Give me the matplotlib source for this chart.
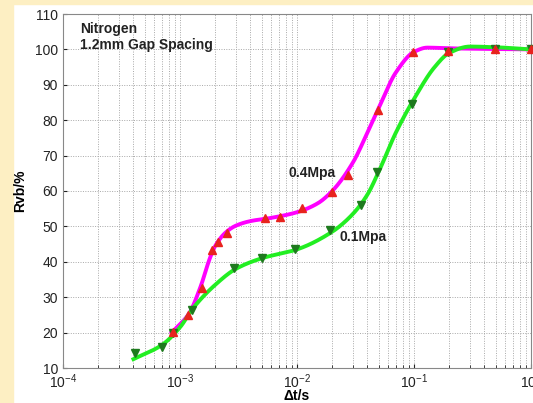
import numpy as np
import matplotlib
matplotlib.use("Agg")
import matplotlib.pyplot as plt
from matplotlib.patches import Rectangle

# measured points (markers)
x_04 = [0.00087, 0.00117, 0.00154, 0.00187, 0.0021, 0.0025, 0.0053, 0.0072, 0.011, 0.02, 0.0273, 0.049, 0.098, 0.195, 0.49, 1.0]
y_04 = [20.2, 25.0, 32.6, 43.3, 45.6, 48.0, 52.3, 52.7, 55.2, 59.7, 64.5, 82.9, 99.3, 99.6, 100.0, 100.0]
x_01 = [0.00041, 0.0007, 0.00087, 0.00126, 0.0029, 0.005, 0.0096, 0.019, 0.035, 0.048, 0.096, 0.195, 0.49, 1.0]
y_01 = [14.2, 16.0, 20.0, 26.4, 38.2, 41.2, 43.7, 49.0, 56.0, 65.4, 84.5, 99.3, 100.0, 100.0]

# fitted curves
cx_04 = [0.00085, 0.0012, 0.0015, 0.0018, 0.002, 0.0025, 0.003, 0.004, 0.006, 0.01, 0.015, 0.02, 0.03, 0.04, 0.05, 0.07, 0.1, 0.13, 0.2, 1.0]
cy_04 = [20.0, 25.5, 33.0, 41.0, 44.5, 48.5, 50.2, 51.5, 52.4, 54.0, 56.5, 60.0, 68.0, 76.5, 83.5, 93.5, 99.3, 100.5, 100.3, 100.0]
cx_01 = [0.0004, 0.0007, 0.001, 0.0013, 0.002, 0.003, 0.005, 0.01, 0.02, 0.03, 0.04, 0.05, 0.07, 0.1, 0.15, 0.2, 0.3, 0.5, 1.0]
cy_01 = [12.5, 16.5, 21.5, 27.0, 33.5, 38.0, 41.0, 43.5, 48.5, 53.5, 59.0, 65.5, 76.5, 86.0, 95.0, 99.0, 100.8, 100.6, 100.0]

labels = ["0.4Mpa", "0.1Mpa"]
xticks = [1e-4, 1e-3, 1e-2, 1e-1, 1e0]
xticklabels = [r"$\mathregular{10^{-4}}$", r"$\mathregular{10^{-3}}$", r"$\mathregular{10^{-2}}$",
               r"$\mathregular{10^{-1}}$", r"$\mathregular{10^{0}}$"]
yticks = list(range(10, 111, 10))


def pchip(xk, yk, xn):
    xk = np.asarray(xk, float); yk = np.asarray(yk, float)
    h = np.diff(xk); d = np.diff(yk) / h
    n = len(xk)
    m = np.zeros(n)
    for i in range(1, n - 1):
        if d[i - 1] * d[i] <= 0:
            m[i] = 0
        else:
            w1 = 2 * h[i] + h[i - 1]; w2 = h[i] + 2 * h[i - 1]
            m[i] = (w1 + w2) / (w1 / d[i - 1] + w2 / d[i])
    m[0] = d[0]; m[-1] = d[-1]
    idx = np.clip(np.searchsorted(xk, xn) - 1, 0, n - 2)
    t = (xn - xk[idx]) / h[idx]
    h00 = 2 * t**3 - 3 * t**2 + 1; h10 = t**3 - 2 * t**2 + t
    h01 = -2 * t**3 + 3 * t**2; h11 = t**3 - t**2
    return h00 * yk[idx] + h10 * h[idx] * m[idx] + h01 * yk[idx + 1] + h11 * h[idx] * m[idx + 1]


def smooth(cx, cy):
    lx = np.log10(cx)
    ln = np.linspace(lx[0], lx[-1], 400)
    return 10**ln, pchip(lx, cy, ln)


plt.rcParams['font.family'] = ['Liberation Sans', 'DejaVu Sans']
fig = plt.figure(figsize=(5.33, 4.03), dpi=100)
fig.patch.set_facecolor('white')
yellow = '#FDEFC3'
fig.add_artist(Rectangle((0, 0), 13 / 533, 1, transform=fig.transFigure, color=yellow, zorder=0))
fig.add_artist(Rectangle((0, 1 - 4 / 403), 1, 4 / 403, transform=fig.transFigure, color=yellow, zorder=0))

ax = fig.add_axes([63 / 533, 1 - 368 / 403, 468 / 533, 354 / 403])
ax.set_xscale('log')
ax.set_xlim(1e-4, 1e0)
ax.set_ylim(10, 110)

sx, sy = smooth(cx_04, cy_04)
ax.plot(sx, sy, color='#FF00FF', lw=2.8, zorder=3)
sx, sy = smooth(cx_01, cy_01)
ax.plot(sx, sy, color='#22EE22', lw=2.8, zorder=3)
ax.plot(x_04, y_04, linestyle='none', marker='^', color='#E8231E', ms=6, zorder=5, clip_on=False)
ax.plot(x_01, y_01, linestyle='none', marker='v', color='#1E7A1E', ms=6, zorder=4, clip_on=False)

ax.set_xticks(xticks)
ax.set_xticklabels(xticklabels)
ax.set_yticks(yticks)
ax.tick_params(axis='both', which='both', direction='in', labelsize=10, colors='#222222', length=3)
ax.tick_params(axis='x', which='both', pad=3)
ax.tick_params(axis='both', which='minor', length=2)
ax.grid(True, which='major', axis='both', color='#A8A8A8', linestyle=(0, (1, 1.5)), lw=0.7)
ax.grid(True, which='minor', axis='x', color='#A8A8A8', linestyle=(0, (1, 1.5)), lw=0.7)
for s in ax.spines.values():
    s.set_color('#888888'); s.set_linewidth(0.8)

ax.set_xlabel('Δt/s', fontsize=10, fontweight='bold', labelpad=-1)
ax.set_ylabel('Rvb/%', fontsize=10, fontweight='bold', labelpad=6)

ax.text(0.036, 0.935, 'Nitrogen\n1.2mm Gap Spacing', transform=ax.transAxes, fontsize=10,
        fontweight='bold', va='center', ha='left', linespacing=1.2, color='#222222')
ax.text(0.0084, 65.0, labels[0], fontsize=10, fontweight='bold', va='center', ha='left', color='#222222')
ax.text(0.0233, 47.0, labels[1], fontsize=10, fontweight='bold', va='center', ha='left', color='#222222')

fig.savefig('out.png', dpi=100)
